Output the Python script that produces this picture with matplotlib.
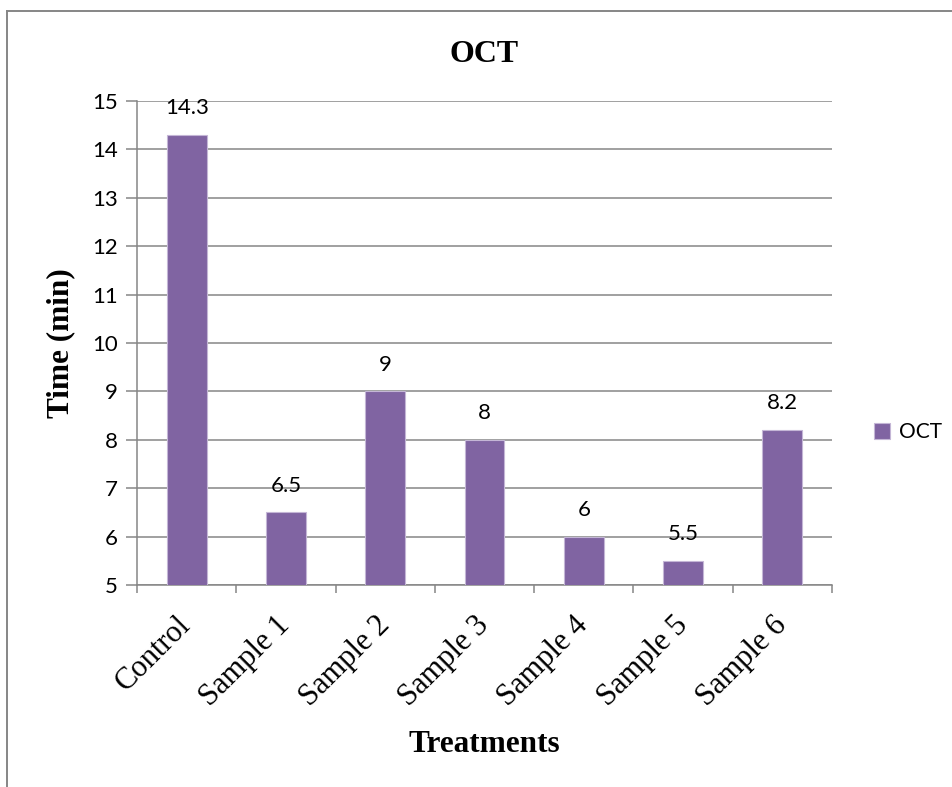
import matplotlib.pyplot as plt
from matplotlib.lines import Line2D

categories = ["Control", "Sample 1", "Sample 2", "Sample 3", "Sample 4", "Sample 5", "Sample 6"]
oct_values = [14.3, 6.5, 9, 8, 6, 5.5, 8.2]
value_labels = ["14.3", "6.5", "9", "8", "6", "5.5", "8.2"]
y_ticks = [5, 6, 7, 8, 9, 10, 11, 12, 13, 14, 15]

bar_color = "#8064A2"
grid_color = "#868686"
sans = ["Lato", "DejaVu Sans"]
serif = ["Liberation Serif", "DejaVu Serif"]

fig = plt.figure(figsize=(9.53, 7.87), dpi=100)
ax = fig.add_axes([0.1438, 0.2567, 0.873 - 0.1438, 0.8717 - 0.2567])

x = range(len(categories))
bars = ax.bar(x, oct_values, width=0.4, bottom=0, color=bar_color,
              edgecolor="#c4b6d6", linewidth=0.8, label="OCT", zorder=3)

for xi, v, lab in zip(x, oct_values, value_labels):
    ax.annotate(lab, (xi, v), xytext=(0, 12), textcoords="offset points",
                ha="center", va="bottom", fontsize=16, family=sans)

ax.set_ylim(5, 15)
ax.set_xlim(-0.5, len(categories) - 0.5)
ax.set_yticks(y_ticks)
ax.set_yticklabels([str(t) for t in y_ticks], family=sans, fontsize=16)
ax.yaxis.grid(True, color=grid_color, linewidth=1.1, zorder=0)
ax.set_axisbelow(True)

# category labels in the middle, small ticks on the boundaries
ax.set_xticks(list(x))
ax.set_xticklabels(categories, rotation=45, ha="right", va="center",
                   rotation_mode="anchor", family=serif, fontsize=22)
ax.tick_params(axis="x", which="major", length=0, pad=26)
ax.set_xticks([i - 0.5 for i in range(len(categories) + 1)], minor=True)
ax.tick_params(axis="x", which="minor", length=6, width=1.1, color=grid_color, direction="out")
ax.tick_params(axis="y", length=8, width=1.1, color=grid_color, direction="out", pad=6)

for s in ["top", "right"]:
    ax.spines[s].set_visible(False)
for s in ["left", "bottom"]:
    ax.spines[s].set_color(grid_color)
    ax.spines[s].set_linewidth(1.1)

ax.set_title("OCT", family=serif, fontweight="bold", fontsize=23, pad=28)
ax.set_ylabel("Time (min)", family=serif, fontweight="bold", fontsize=22.5, labelpad=12)
ax.set_xlabel("Treatments", family=serif, fontweight="bold", fontsize=22.5, labelpad=13)

leg = ax.legend(loc="center left", bbox_to_anchor=(1.048, 0.316), frameon=False,
                prop={"family": sans, "size": 15}, handlelength=0.8, handleheight=0.8,
                handletextpad=0.4, borderaxespad=0)

# chart area outline (left and top edges)
fig.add_artist(Line2D([0.0073, 0.0073], [0, 1 - 11 / 787], transform=fig.transFigure,
                      color=grid_color, linewidth=1.4))
fig.add_artist(Line2D([0.0073, 1], [1 - 11 / 787, 1 - 11 / 787], transform=fig.transFigure,
                      color=grid_color, linewidth=1.4))

fig.savefig("out.png", dpi=100)
